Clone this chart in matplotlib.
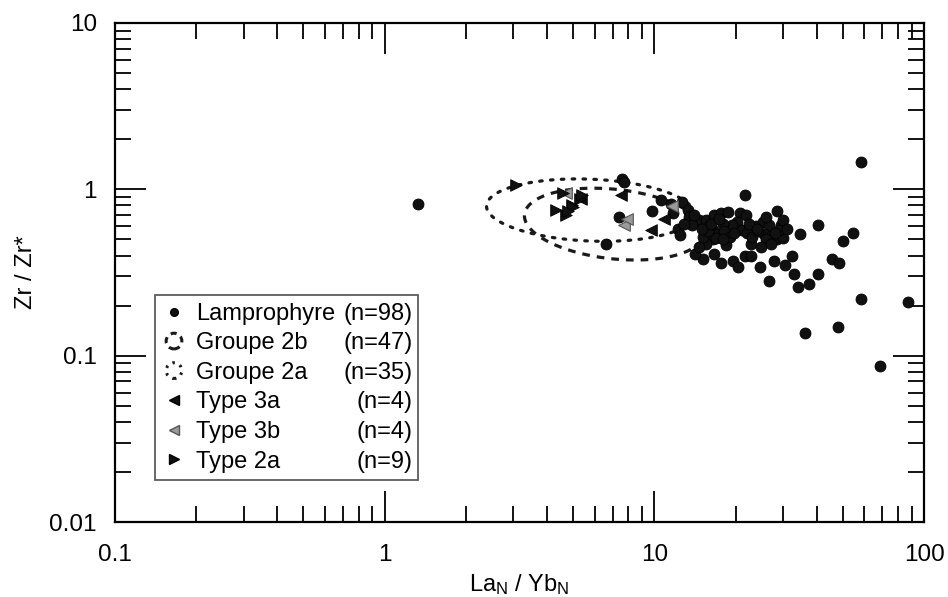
import numpy as np
import matplotlib
matplotlib.use('Agg')
import matplotlib.pyplot as plt
from matplotlib.lines import Line2D
from matplotlib.patches import Ellipse, Patch
from matplotlib.legend_handler import HandlerPatch
from matplotlib.ticker import LogLocator, FixedLocator, FixedFormatter, NullFormatter

plt.rcParams['font.family'] = ['Liberation Sans', 'DejaVu Sans']
plt.rcParams['mathtext.fontset'] = 'custom'
plt.rcParams['mathtext.rm'] = 'Liberation Sans'
plt.rcParams['mathtext.it'] = 'Liberation Sans:italic'

# ---------------- data ----------------
lamp_x = [1.33, 58.3, 21.7, 28.4, 40.3, 34.7, 54.7, 50.2, 9.8, 12.7, 18.5, 15.2, 16.6, 17.7,
          19.5, 20.5, 24.7, 27.7, 32.4, 30.5, 33.0, 26.7, 34.0, 37.5, 40.6, 45.7, 48.2, 58.5,
          87.5, 36.1, 48.0, 68.7, 21.6, 22.8, 22.9, 14.2,
          14.7, 15.5, 16.7, 17.7, 18.7, 16.5, 17.1, 16.5, 15.5, 14.7, 16.9, 15.1, 20.7, 21.8,
          20.3, 19.4, 21.2, 22.1, 23.8, 25.2, 26.7, 25.5, 27.4, 25.9, 24.8, 28.6, 29.9, 29.5,
          29.9, 29.0, 13.3, 13.5, 12.2, 12.4, 10.6, 11.5, 7.6, 7.7,
          16.0, 17.9, 18.2, 19.0, 23.0, 24.2, 26.0, 27.0, 31.0, 15.8, 13.8, 11.7, 7.41, 6.62,
          15.0, 16.2, 17.3, 18.0, 19.8, 22.5, 24.0, 28.0, 12.9, 14.0]
lamp_y = [0.82, 1.45, 0.92, 0.74, 0.61, 0.54, 0.55, 0.49, 0.74, 0.84, 0.46, 0.38, 0.41, 0.36,
          0.37, 0.34, 0.34, 0.37, 0.40, 0.35, 0.31, 0.28, 0.26, 0.27, 0.31, 0.38, 0.36, 0.22,
          0.21, 0.136, 0.148, 0.087, 0.40, 0.40, 0.47, 0.41,
          0.65, 0.65, 0.70, 0.72, 0.73, 0.57, 0.54, 0.50, 0.47, 0.45, 0.51, 0.52, 0.72, 0.70,
          0.64, 0.61, 0.57, 0.55, 0.60, 0.64, 0.61, 0.54, 0.53, 0.50, 0.45, 0.50, 0.51, 0.61,
          0.65, 0.57, 0.75, 0.68, 0.58, 0.53, 0.86, 0.82, 1.16, 1.11,
          0.60, 0.62, 0.56, 0.52, 0.52, 0.56, 0.68, 0.47, 0.58, 0.56, 0.61, 0.72, 0.68, 0.47,
          0.58, 0.62, 0.66, 0.50, 0.55, 0.62, 0.58, 0.55, 0.62, 0.70]

type3a_x = [5.36, 7.54, 9.7, 10.9]
type3a_y = [0.88, 0.92, 0.57, 0.66]
type3b_x = [4.71, 7.74, 7.9, 11.6]
type3b_y = [0.95, 0.61, 0.66, 0.79]
type2a_x = [3.07, 4.33, 4.71, 5.28, 4.97, 5.0, 4.6, 5.4, 4.8]
type2a_y = [1.06, 0.75, 0.70, 0.88, 0.81, 0.78, 0.95, 0.92, 0.74]

# field outlines: centre (data units), half-axes in decades, shear (tilt)
g2a_centre = (5.79, 0.75)
g2a_axes = (0.385, 0.186)
g2a_shear = -0.062
g2b_centre = (7.1, 0.618)
g2b_axes = (0.333, 0.21)
g2b_shear = -0.15

labels = ['Lamprophyre', 'Groupe 2b', 'Groupe 2a', 'Type 3a', 'Type 3b', 'Type 2a']
counts = ['(n=98)', '(n=47)', '(n=35)', '(n=4)', '(n=4)', '(n=9)']

x_ticks = [0.1, 1, 10, 100]
x_ticklabels = ['0.1', '1', '10', '100']
y_ticks = [0.01, 0.1, 1, 10]
y_ticklabels = ['0.01', '0.1', '1', '10']

FS_TICK = 17.5
FS_LAB = 17
FS_LEG = 17

fig = plt.figure(figsize=(9.48, 5.97), dpi=100)
ax = fig.add_axes([0.1213, 0.1256, 0.8534, 0.8359])
ax.set_xscale('log')
ax.set_yscale('log')
ax.set_xlim(0.1, 100)
ax.set_ylim(0.01, 10)


def field(centre, axes, shear):
    t = np.linspace(0, 2 * np.pi, 400)
    cx, cy = np.log10(centre[0]), np.log10(centre[1])
    a, b = axes
    lx = cx + a * np.cos(t)
    ly = cy + b * np.sin(t) + shear * a * np.cos(t)
    return 10 ** lx, 10 ** ly


fx, fy = field(g2a_centre, g2a_axes, g2a_shear)
ax.plot(fx, fy, color='#1a1a1a', lw=2.3, linestyle=(0, (0.8, 2.6)), dash_capstyle='round', zorder=3)
fx, fy = field(g2b_centre, g2b_axes, g2b_shear)
ax.plot(fx, fy, color='#1a1a1a', lw=2.3, linestyle=(0, (2.4, 2.2)), zorder=3)

ax.scatter(lamp_x, lamp_y, s=62, marker='o', facecolor='#111111', edgecolor='#000000', lw=0.6, zorder=4)
ax.scatter(type3b_x, type3b_y, s=70, marker='<', facecolor='#9a9a9a', edgecolor='#555555', lw=0.8, zorder=5)
ax.scatter(type3a_x, type3a_y, s=70, marker='<', facecolor='#111111', edgecolor='#000000', lw=0.6, zorder=5)
ax.scatter(type2a_x, type2a_y, s=70, marker='>', facecolor='#111111', edgecolor='#000000', lw=0.6, zorder=5)

ax.xaxis.set_major_locator(FixedLocator(x_ticks))
ax.xaxis.set_major_formatter(FixedFormatter(x_ticklabels))
ax.yaxis.set_major_locator(FixedLocator(y_ticks))
ax.yaxis.set_major_formatter(FixedFormatter(y_ticklabels))
ax.xaxis.set_minor_locator(LogLocator(base=10, subs=np.arange(2, 10)))
ax.yaxis.set_minor_locator(LogLocator(base=10, subs=np.arange(2, 10)))
ax.xaxis.set_minor_formatter(NullFormatter())
ax.yaxis.set_minor_formatter(NullFormatter())

ax.tick_params(which='major', direction='in', length=22, width=1.3, top=True, right=True,
               labelsize=FS_TICK)
ax.tick_params(axis='x', which='major', pad=15.5)
ax.tick_params(axis='y', which='major', pad=13)
ax.tick_params(which='minor', direction='in', length=11.5, width=1.3, top=True, right=True)
for sp in ax.spines.values():
    sp.set_linewidth(1.6)

ax.set_xlabel(r'La$_{\mathregular{N}}$ / Yb$_{\mathregular{N}}$', fontsize=FS_LAB, labelpad=5)
ax.set_ylabel('Zr / Zr*', fontsize=FS_LAB, labelpad=9)


class HandlerEllipse(HandlerPatch):
    def create_artists(self, legend, orig_handle, xdescent, ydescent, width, height, fontsize, trans):
        center = 0.5 * width - 0.5 * xdescent, 0.5 * height - 0.5 * ydescent
        p = Ellipse(xy=center, width=height * 0.95, height=height * 0.95)
        self.update_prop(p, orig_handle, legend)
        p.set_transform(trans)
        return [p]


h_lamp = Line2D([], [], ls='none', marker='o', ms=5.5, mfc='#111111', mec='#000000')
h_2b = Patch(facecolor='none', edgecolor='#1a1a1a', lw=2.2, linestyle=(0, (2.0, 1.6)))
h_2a = Patch(facecolor='none', edgecolor='#1a1a1a', lw=2.2, linestyle=(0, (0.8, 1.8)))
h_3a = Line2D([], [], ls='none', marker='<', ms=7, mfc='#111111', mec='#000000')
h_3b = Line2D([], [], ls='none', marker='<', ms=7, mfc='#9a9a9a', mec='#555555')
h_2a_t = Line2D([], [], ls='none', marker='>', ms=7, mfc='#111111', mec='#000000')

leg = ax.legend([h_lamp, h_2b, h_2a, h_3a, h_3b, h_2a_t], labels,
                handler_map={Patch: HandlerEllipse()},
                loc='lower left', bbox_to_anchor=(0.049, 0.084, 0.326, 0.371), mode='expand',
                fontsize=FS_LEG, frameon=True, fancybox=False, edgecolor='#333333',
                handlelength=1.0, handletextpad=0.45, borderpad=0.32, labelspacing=0.32,
                borderaxespad=0)
leg.get_frame().set_linewidth(1.3)

fig.canvas.draw()
r = fig.canvas.get_renderer()
fb = leg.get_frame().get_window_extent(r)
inv = fig.transFigure.inverted()
for t, c in zip(leg.get_texts(), counts):
    bb = t.get_window_extent(r)
    xr, yb = inv.transform((fb.x1 - 6, bb.y0))
    fig.text(xr, yb, c, ha='right', va='bottom', fontsize=FS_LEG)

fig.savefig('out.png', dpi=100)
